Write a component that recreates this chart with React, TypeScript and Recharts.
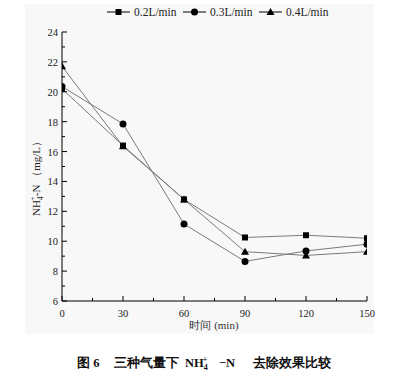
import { LineChart, Line, XAxis, YAxis } from "recharts";

// sampling time (min)
const times = [0, 30, 60, 90, 120, 150];
// NH4+-N concentration (mg/L) at three aeration rates
const rate02 = [20.2, 16.4, 12.8, 10.25, 10.4, 10.2];
const rate03 = [20.35, 17.85, 11.15, 8.65, 9.35, 9.8];
const rate04 = [21.7, 16.35, 12.8, 9.3, 9.05, 9.3];

const xTicks = [0, 15, 30, 45, 60, 75, 90, 105, 120, 135, 150];
const yTicks = [6, 7, 8, 9, 10, 11, 12, 13, 14, 15, 16, 17, 18, 19, 20, 21, 22, 23, 24];
const legendNames = ["0.2L/min", "0.3L/min", "0.4L/min"];

const data = times.map((t, i) => ({ t, a: rate02[i], b: rate03[i], c: rate04[i] }));

const serif = "Liberation Serif, serif";
const lineColor = "#7a7a7a";

const Square = ({ cx, cy, s = 3 }) => <rect x={cx - s} y={cy - s} width={2 * s} height={2 * s} fill="#000" />;
const Dot = ({ cx, cy, r = 3.5 }) => <circle cx={cx} cy={cy} r={r} fill="#000" />;
const Tri = ({ cx, cy }) => (
  <polygon points={`${cx},${cy - 4} ${cx - 4},${cy + 3} ${cx + 4},${cy + 3}`} fill="#000" />
);

const YTick = (props) => {
  const { x, y, payload } = props;
  const major = payload.value % 2 === 0;
  return (
    <g>
      <line x1={x} x2={x + (major ? 5 : 3)} y1={y} y2={y} stroke="#000" />
      {major && (
        <text x={x - 4} y={y} dy={4} textAnchor="end" fontSize={10.5} style={{ fontFamily: serif }} fill="#222">
          {payload.value}
        </text>
      )}
    </g>
  );
};

const XTick = (props) => {
  const { x, y, payload } = props;
  const major = payload.value % 30 === 0;
  return (
    <g>
      <line x1={x} x2={x} y1={y} y2={y - (major ? 5 : 3)} stroke="#000" />
      {major && (
        <text x={x} y={y} dy={16} textAnchor="middle" fontSize={10.5} style={{ fontFamily: serif }} fill="#222">
          {payload.value}
        </text>
      )}
    </g>
  );
};

const markers = [Square, Dot, Tri];

const App = () => {
  return (
    <div style={{ position: "absolute", left: 0, top: 0, width: 414, height: 381, background: "#fff", fontFamily: serif }}>
      <div style={{ position: "absolute", left: 25, top: 4, width: 349, height: 330, background: "#f8f8f8" }} />
      <div style={{ position: "absolute", left: 0, top: 0 }}>
        <LineChart width={414} height={381} data={data} margin={{ top: 32, right: 47, bottom: 0, left: 0 }}>
          <XAxis
            dataKey="t"
            type="number"
            domain={[0, 150]}
            ticks={xTicks}
            interval={0}
            height={80}
            tickSize={0}
            tickMargin={0}
            tickLine={false}
            allowDataOverflow
            axisLine={{ stroke: "#000" }}
            tick={<XTick />}
          />
          <YAxis
            type="number"
            domain={[6, 24]}
            ticks={yTicks}
            interval={0}
            width={62}
            tickSize={0}
            tickMargin={0}
            tickLine={false}
            allowDataOverflow
            axisLine={{ stroke: "#000" }}
            tick={<YTick />}
          />
          <Line type="linear" dataKey="a" stroke={lineColor} strokeWidth={1} isAnimationActive={false}
            dot={(p) => <Square key={p.index} cx={p.cx} cy={p.cy} />} />
          <Line type="linear" dataKey="b" stroke={lineColor} strokeWidth={1} isAnimationActive={false}
            dot={(p) => <Dot key={p.index} cx={p.cx} cy={p.cy} />} />
          <Line type="linear" dataKey="c" stroke={lineColor} strokeWidth={1} isAnimationActive={false}
            dot={(p) => <Tri key={p.index} cx={p.cx} cy={p.cy} />} />
        </LineChart>
      </div>
      <svg width={414} height={381} style={{ position: "absolute", left: 0, top: 0, pointerEvents: "none", fontFamily: serif }}>
        {/* legend */}
        {legendNames.map((name, i) => {
          const x0 = 107 + i * 76;
          const M = markers[i];
          return (
            <g key={name}>
              <line x1={x0} x2={x0 + 23} y1={12} y2={12} stroke="#000" />
              <M cx={x0 + 11.5} cy={12} />
              <text x={x0 + 27} y={16} fontSize={11.5} fill="#222">{name}</text>
            </g>
          );
        })}
        {/* y label */}
        <text transform="translate(40,176) rotate(-90)" textAnchor="middle" fontSize={11} fill="#222">
          NH<tspan fontSize={7.5} dy={3}>4</tspan>
          <tspan fontSize={7.5} dx={-4} dy={-8}>+</tspan>
          <tspan dy={5}>-N （mg/L）</tspan>
        </text>
        {/* x label */}
        <text x={214} y={329} textAnchor="middle" fontSize={11} fill="#333">时间 (min)</text>
        {/* caption */}
        <g fontWeight="bold" fill="#111" fontSize={12.5}>
          <text x={77} y={367}>图 6</text>
          <text x={114} y={367}>三种气量下</text>
          <text x={185} y={367}>NH<tspan fontSize={8} dy={3}>4</tspan>
            <tspan fontSize={8} dx={-5} dy={-8}>+</tspan></text>
          <text x={219} y={367}>−N</text>
          <text x={253} y={367}>去除效果比较</text>
        </g>
      </svg>
    </div>
  );
};

export default App;
